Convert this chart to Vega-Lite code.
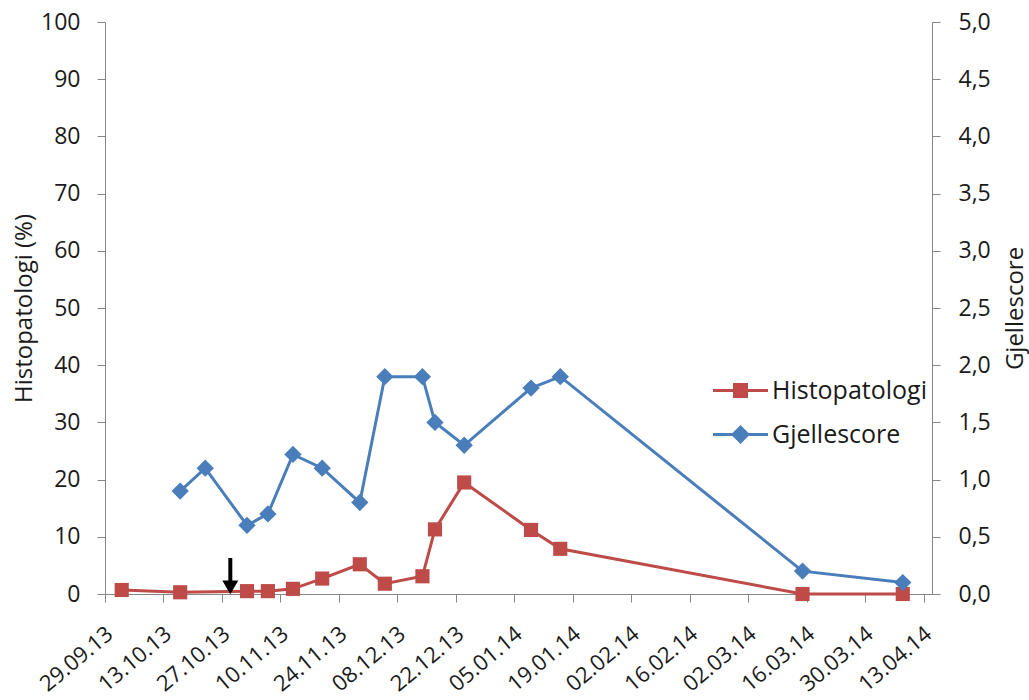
{
  "$schema": "https://vega.github.io/schema/vega-lite/v6.json",
  "width": 827,
  "height": 572,
  "autosize": {"type": "none"},
  "padding": {"left": 105, "top": 22, "right": 97, "bottom": 106},
  "background": "white",
  "config": {
    "locale": {"number": {"decimal": ",", "thousands": " ", "grouping": [3], "currency": ["", " kr"]}},
    "view": {"stroke": null},
    "font": "Open Sans",
    "axis": {
      "grid": false,
      "domainColor": "#868686",
      "tickColor": "#868686",
      "tickSize": 8,
      "labelFont": "Open Sans",
      "labelFontSize": 23,
      "labelColor": "#1a1a1a",
      "titleFont": "Open Sans",
      "titleFontSize": 24,
      "titleFontWeight": "normal",
      "titleColor": "#1a1a1a"
    },
    "legend": {
      "orient": "none",
      "legendX": 623,
      "legendY": 356,
      "padding": 0,
      "symbolSize": 400,
      "symbolStrokeWidth": 0,
      "labelFont": "Open Sans",
      "labelFontSize": 25,
      "labelColor": "#1a1a1a",
      "labelOffset": 19,
      "rowPadding": 18,
      "symbolOpacity": 1
    }
  },
  "datasets": {
    "main": [
      {"date": "2013-10-03", "series": "Histopatologi", "value": 0.7},
      {"date": "2013-10-17", "series": "Histopatologi", "value": 0.3},
      {"date": "2013-11-02", "series": "Histopatologi", "value": 0.5},
      {"date": "2013-11-07", "series": "Histopatologi", "value": 0.5},
      {"date": "2013-11-13", "series": "Histopatologi", "value": 0.9},
      {"date": "2013-11-20", "series": "Histopatologi", "value": 2.7},
      {"date": "2013-11-29", "series": "Histopatologi", "value": 5.2},
      {"date": "2013-12-05", "series": "Histopatologi", "value": 1.8},
      {"date": "2013-12-14", "series": "Histopatologi", "value": 3.1},
      {"date": "2013-12-17", "series": "Histopatologi", "value": 11.3},
      {"date": "2013-12-24", "series": "Histopatologi", "value": 19.5},
      {"date": "2014-01-09", "series": "Histopatologi", "value": 11.2},
      {"date": "2014-01-16", "series": "Histopatologi", "value": 7.9},
      {"date": "2014-03-15", "series": "Histopatologi", "value": 0},
      {"date": "2014-04-08", "series": "Histopatologi", "value": 0},
      {"date": "2013-10-17", "series": "Gjellescore", "value": 0.9},
      {"date": "2013-10-23", "series": "Gjellescore", "value": 1.1},
      {"date": "2013-11-02", "series": "Gjellescore", "value": 0.6},
      {"date": "2013-11-07", "series": "Gjellescore", "value": 0.7},
      {"date": "2013-11-13", "series": "Gjellescore", "value": 1.22},
      {"date": "2013-11-20", "series": "Gjellescore", "value": 1.1},
      {"date": "2013-11-29", "series": "Gjellescore", "value": 0.8},
      {"date": "2013-12-05", "series": "Gjellescore", "value": 1.9},
      {"date": "2013-12-14", "series": "Gjellescore", "value": 1.9},
      {"date": "2013-12-17", "series": "Gjellescore", "value": 1.5},
      {"date": "2013-12-24", "series": "Gjellescore", "value": 1.3},
      {"date": "2014-01-09", "series": "Gjellescore", "value": 1.8},
      {"date": "2014-01-16", "series": "Gjellescore", "value": 1.9},
      {"date": "2014-03-15", "series": "Gjellescore", "value": 0.2},
      {"date": "2014-04-08", "series": "Gjellescore", "value": 0.1}
    ],
    "arrow": [
      {"date": "2013-10-29", "value": 6.3, "value2": 2.2, "head": 1.15}
    ]
  },
  "encoding": {
    "x": {
      "field": "date",
      "type": "temporal",
      "scale": {
        "type": "utc",
        "domain": [
          {"year": 2013, "month": 9, "date": 29, "utc": true},
          {"year": 2014, "month": 4, "date": 15, "utc": true}
        ]
      },
      "axis": {
        "title": null,
        "format": "%d.%m.%y",
        "labelAngle": -40,
        "labelAlign": "right",
        "labelBaseline": "top",
        "labelFontSize": 22,
        "labelPadding": 21,
        "labelOffset": -2,
        "labelFlush": false,
        "labelOverlap": false,
        "values": [
          {"year": 2013, "month": 9, "date": 29, "utc": true},
          {"year": 2013, "month": 10, "date": 13, "utc": true},
          {"year": 2013, "month": 10, "date": 27, "utc": true},
          {"year": 2013, "month": 11, "date": 10, "utc": true},
          {"year": 2013, "month": 11, "date": 24, "utc": true},
          {"year": 2013, "month": 12, "date": 8, "utc": true},
          {"year": 2013, "month": 12, "date": 22, "utc": true},
          {"year": 2014, "month": 1, "date": 5, "utc": true},
          {"year": 2014, "month": 1, "date": 19, "utc": true},
          {"year": 2014, "month": 2, "date": 2, "utc": true},
          {"year": 2014, "month": 2, "date": 16, "utc": true},
          {"year": 2014, "month": 3, "date": 2, "utc": true},
          {"year": 2014, "month": 3, "date": 16, "utc": true},
          {"year": 2014, "month": 3, "date": 30, "utc": true},
          {"year": 2014, "month": 4, "date": 13, "utc": true}
        ]
      }
    }
  },
  "layer": [
    {
      "data": {"name": "main"},
      "transform": [{"filter": "datum.series === 'Histopatologi'"}],
      "encoding": {
        "y": {
          "field": "value",
          "type": "quantitative",
          "title": "Histopatologi (%)",
          "scale": {"domain": [0, 100], "nice": false},
          "axis": {
            "values": [0, 10, 20, 30, 40, 50, 60, 70, 80, 90, 100],
            "labelPadding": 17,
            "titlePadding": 4
          }
        }
      },
      "layer": [
        {
          "mark": {"type": "line", "strokeWidth": 3, "color": "#BE4B48"}
        },
        {
          "mark": {"type": "point", "shape": "square", "filled": true, "color": "#BE4B48", "size": 200, "opacity": 1}
        },
        {
          "data": {"name": "arrow"},
          "mark": {"type": "rule", "color": "black", "strokeWidth": 4},
          "encoding": {
            "y": {"field": "value", "type": "quantitative", "title": "Histopatologi (%)"},
            "y2": {"field": "value2"}
          }
        },
        {
          "data": {"name": "arrow"},
          "mark": {"type": "point", "shape": "triangle-down", "filled": true, "color": "black", "size": 256, "opacity": 1},
          "encoding": {
            "y": {"field": "head", "type": "quantitative", "title": "Histopatologi (%)"}
          }
        },
        {
          "transform": [{"filter": "false"}],
          "mark": {"type": "point", "filled": true, "opacity": 1},
          "encoding": {
            "color": {
              "field": "series",
              "type": "nominal",
              "scale": {"domain": ["Histopatologi", "Gjellescore"], "range": ["#BE4B48", "#4A7EBB"]},
              "legend": {"title": null}
            },
            "shape": {
              "field": "series",
              "type": "nominal",
              "scale": {
                "domain": ["Histopatologi", "Gjellescore"],
                "range": [
                  "M-2.75,-0.15H2.75V0.15H-2.75Z M-0.75,-0.75H0.75V0.75H-0.75Z",
                  "M-2.75,-0.15H2.75V0.15H-2.75Z M0,-0.95L0.95,0L0,0.95L-0.95,0Z"
                ]
              },
              "legend": {"title": null}
            }
          }
        }
      ]
    },
    {
      "data": {"name": "main"},
      "transform": [{"filter": "datum.series === 'Gjellescore'"}],
      "encoding": {
        "y": {
          "field": "value",
          "type": "quantitative",
          "title": "Gjellescore",
          "scale": {"domain": [0, 5], "nice": false},
          "axis": {
            "orient": "right",
            "format": ".1f",
            "values": [0, 0.5, 1, 1.5, 2, 2.5, 3, 3.5, 4, 4.5, 5],
            "labelPadding": 18,
            "titleAngle": -90,
            "titleBaseline": "top",
            "titlePadding": 13
          }
        }
      },
      "layer": [
        {
          "mark": {"type": "line", "strokeWidth": 3, "color": "#4A7EBB"}
        },
        {
          "mark": {"type": "point", "shape": "diamond", "filled": true, "color": "#4A7EBB", "size": 300, "opacity": 1}
        }
      ]
    }
  ],
  "resolve": {"scale": {"y": "independent"}}
}
